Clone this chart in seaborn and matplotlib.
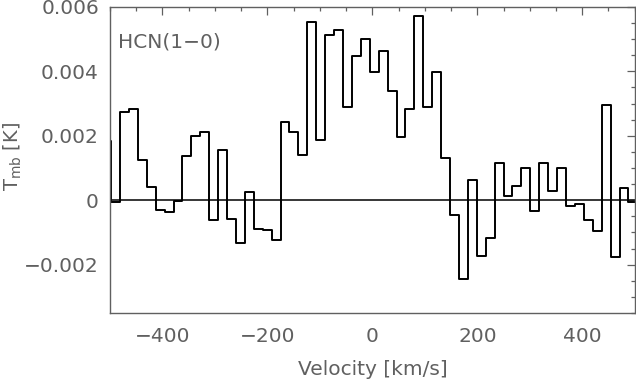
import numpy as np
import pandas as pd
import matplotlib
matplotlib.use("Agg")
import matplotlib.pyplot as plt
import seaborn as sns
from matplotlib.ticker import MultipleLocator, FixedLocator, FixedFormatter

# channel grid (km/s): first channel edge and width
v_start = -515.0
chan_width = 17.0

# HCN(1-0) main beam temperature per channel [K]
tmb = [0.00183, -0.00005, 0.00274, 0.00283, 0.00125, 0.00040, -0.00029, -0.00036,
       -0.00001, 0.00137, 0.00200, 0.00212, -0.00060, 0.00155, -0.00057, -0.00132,
       0.00026, -0.00090, -0.00091, -0.00125, 0.00242, 0.00211, 0.00139, 0.00554,
       0.00187, 0.00512, 0.00527, 0.00290, 0.00447, 0.00500, 0.00399, 0.00462,
       0.00340, 0.00196, 0.00284, 0.00573, 0.00288, 0.00398, 0.00132, -0.00047,
       -0.00246, 0.00064, -0.00174, -0.00118, 0.00116, 0.00014, 0.00044, 0.00099,
       -0.00032, 0.00117, 0.00028, 0.00099, -0.00017, -0.00013, -0.00061, -0.00097,
       0.00294, -0.00177, 0.00039, -0.00006]

line_label = "HCN(1\u22120)"
x_ticks = [-400, -200, 0, 200, 400]
x_ticklabels = ["\u2212400", "\u2212200", "0", "200", "400"]
y_ticks = [-0.002, 0, 0.002, 0.004, 0.006]
y_ticklabels = ["\u22120.002", "0", "0.002", "0.004", "0.006"]

# step outline: left edge of every channel, plus the right edge of the last one
edges = v_start + chan_width * np.arange(len(tmb) + 1)
df = pd.DataFrame({"velocity": edges, "tmb": tmb + [tmb[-1]]})

sns.set_theme(style="white")
plt.rcParams["font.family"] = ["DejaVu Sans"]
grey = "#606060"
fs = 14.5

fig = plt.figure(figsize=(6.36, 3.84), dpi=100)
ax = fig.add_axes([0.173, 0.185, 0.825, 0.797])

sns.lineplot(data=df, x="velocity", y="tmb", drawstyle="steps-post",
             estimator=None, sort=False, color="black", linewidth=1.4, ax=ax)
ax.axhline(0, color="black", linewidth=1.1)

ax.set_xlim(-500, 500)
ax.set_ylim(-0.0035, 0.006)

ax.xaxis.set_major_locator(FixedLocator(x_ticks))
ax.xaxis.set_major_formatter(FixedFormatter(x_ticklabels))
ax.xaxis.set_minor_locator(MultipleLocator(50))
ax.yaxis.set_major_locator(FixedLocator(y_ticks))
ax.yaxis.set_major_formatter(FixedFormatter(y_ticklabels))
ax.yaxis.set_minor_locator(MultipleLocator(0.0005))

ax.tick_params(which="both", direction="in", top=True, right=True,
               color=grey, width=0.9)
ax.tick_params(which="major", length=6, labelsize=fs, labelcolor=grey)
ax.tick_params(axis="x", which="major", pad=10)
ax.tick_params(axis="y", which="major", pad=8)
ax.tick_params(which="minor", length=3)
for s in ax.spines.values():
    s.set_color(grey)
    s.set_linewidth(1.0)

ax.set_xlabel("Velocity [km/s]", fontsize=fs, color=grey, labelpad=10)
ax.set_ylabel("T$_{\\rm mb}$ [K]", fontsize=14, color=grey)
ax.yaxis.set_label_coords(-0.164, 0.51)
ax.text(0.015, 0.885, line_label, transform=ax.transAxes, fontsize=fs,
        color=grey, ha="left", va="center")

fig.savefig("out.png", dpi=100)
